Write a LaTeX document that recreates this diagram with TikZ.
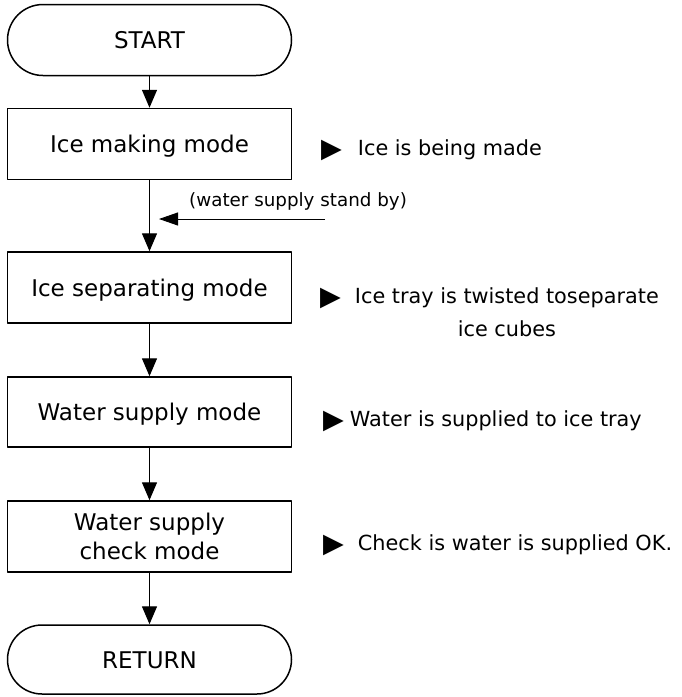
\documentclass[tikz,border=0pt]{standalone}
\usepackage{fontspec}
\setmainfont{DejaVu Sans}
\usetikzlibrary{arrows.meta,positioning}

\newcommand{\marktri}{\raisebox{-2pt}{\fontsize{27}{27}\selectfont ▶}}

\begin{document}
\begin{tikzpicture}[x=1pt,y=-1pt,line join=round,
  box/.style={draw,line width=1.5pt,minimum width=284pt,minimum height=71pt,inner sep=0pt,align=center,font=\fontsize{23}{29}\selectfont},
  oneline/.style={text height=17pt,text depth=0pt},
  term/.style={box,oneline,rounded corners=35.5pt},
  note/.style={anchor=base west,inner sep=0pt,font=\fontsize{20.8}{33}\selectfont},
  flow/.style={line width=1.4pt,-{Triangle[length=18pt,width=15pt]}},
  feed/.style={line width=0.9pt,-{Triangle[length=19pt,width=13pt]}}]
\useasboundingbox (0,0) rectangle (681,697);
\node[term] (start) at (149.5,40) {START};
\node[box,oneline] (icemake) at (149.5,144) {Ice making mode};
\node[box,oneline] (icesep) at (149.5,287.5) {Ice separating mode};
\node[box,oneline,minimum height=70pt] (wsupply) at (149.5,412) {Water supply mode};
\node[box] (wcheck) at (149.5,536.5) {Water supply\\check mode};
\node[term,minimum height=69pt,rounded corners=34.5pt] (return) at (149.5,659.5) {RETURN};
\draw[flow] (start) -- (icemake);
\draw[flow] (icemake) -- (icesep);
\draw[flow] (icesep) -- (wsupply);
\draw[flow] (wsupply) -- (wcheck);
\draw[flow] (wcheck) -- (return);
\coordinate (standby) at (325,219);
\coordinate (standbytip) at (159,219);
\draw[feed] (standby) -- (standbytip);
\node[anchor=base west,inner sep=0pt,font=\fontsize{18.3}{22}\selectfont] (standbytxt) at (189,206) {(water supply stand by)};
\node[note] (makenote) at (321,155) {\marktri\hspace{16pt}Ice is being made};
\node[note] (sepnote) at (320,303) {\marktri\hspace{14pt}\begin{tabular}[t]{@{}c@{}}Ice tray is twisted toseparate\\ice cubes\end{tabular}};
\node[note] (supplynote) at (323,426.5) {\marktri\hspace{6pt}Water is supplied to ice tray};
\node[note] (checknote) at (323,550.5) {\marktri\hspace{14pt}Check is water is supplied OK.};
\end{tikzpicture}
\end{document}
